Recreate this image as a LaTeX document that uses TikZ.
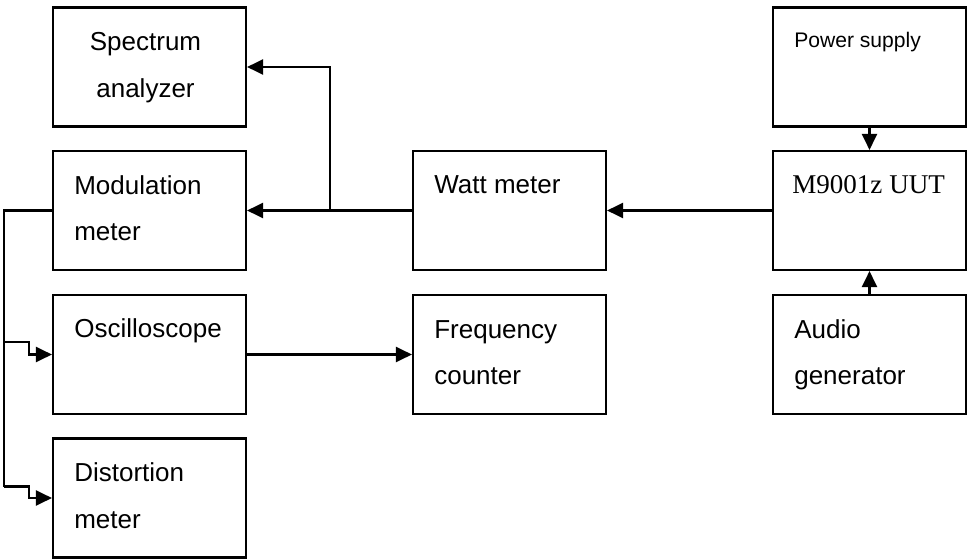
\documentclass[tikz,border=0pt]{standalone}
\usepackage{fontspec}
\setmainfont{Liberation Sans}
\newfontfamily\uutfont{Liberation Serif}
\usetikzlibrary{arrows.meta, positioning, calc}

\begin{document}
\begin{tikzpicture}[
        box/.style={rectangle, draw, line width=1.2pt, minimum width=3.86cm, minimum height=2.38cm, inner sep=0pt},
        lbl/.style={anchor=base west, align=left, inner sep=0pt, font=\fontsize{14.8}{26.7}\selectfont},
        wire/.style={line width=1.2pt},
        arrow/.style={-{Triangle[length=0.32cm, width=0.3cm]}, line width=1.2pt}
    ]
        \useasboundingbox (0,0) rectangle (19.34,11.16);

        % Measuring instruments on the left
        \node[box] (spec) at (2.99, 9.82) {};
        \node[box] (mod) at (2.99, 6.95) {};
        \node[box] (osc) at (2.99, 4.07) {};
        \node[box] (dist) at (2.99, 1.2) {};
        \node[lbl, anchor=base, align=center, xshift=-0.08cm, yshift=-1.82cm] (spectxt) at (spec.north) {Spectrum\\ analyzer};
        \node[lbl, xshift=0.44cm, yshift=-1.82cm] (modtxt) at (mod.north west) {Modulation\\meter};
        \node[lbl, xshift=0.44cm, yshift=-0.88cm] (osctxt) at (osc.north west) {Oscilloscope};
        \node[lbl, xshift=0.44cm, yshift=-1.82cm] (disttxt) at (dist.north west) {Distortion\\meter};

        % Middle column
        \node[box] (watt) at (10.19, 6.95) {};
        \node[box] (freq) at (10.19, 4.07) {};
        \node[lbl, xshift=0.44cm, yshift=-0.88cm] (watttxt) at (watt.north west) {Watt meter};
        \node[lbl, xshift=0.44cm, yshift=-1.82cm] (freqtxt) at (freq.north west) {Frequency\\counter};

        % Unit under test with its sources
        \node[box] (power) at (17.39, 9.82) {};
        \node[box] (uut) at (17.39, 6.95) {};
        \node[box] (audio) at (17.39, 4.07) {};
        \node[lbl, font=\fontsize{12}{14}\selectfont, xshift=0.44cm, yshift=-0.82cm] (powertxt) at (power.north west) {Power supply};
        \node[lbl, font=\fontsize{15.4}{18}\uutfont, xshift=0.40cm, yshift=-0.88cm] (uuttxt) at (uut.north west) {M9001z UUT};
        \node[lbl, xshift=0.44cm, yshift=-1.82cm] (audiotxt) at (audio.north west) {Audio\\generator};

        % Signal path
        \draw[arrow] (power) -- (uut);
        \draw[arrow] (audio) -- (uut);
        \draw[arrow] (uut) -- (watt);
        \draw[arrow] (watt) -- (mod);
        \coordinate (split) at (6.6, 6.95);
        \draw[arrow] (split) |- (spec);
        \draw[arrow] (osc) -- (freq);

        % Demodulated output to oscilloscope and distortion meter
        \coordinate (tapA) at ($(osc.west)+(-0.96, 0.25)$);
        \coordinate (tapB) at ($(dist.west)+(-0.96, 0.23)$);
        \draw[wire] (mod.west) -| (tapB);
        \draw[arrow] (tapA) -- ++(0.5, 0) |- (osc.west);
        \draw[arrow] (tapB) -- ++(0.5, 0) |- (dist.west);
    \end{tikzpicture}
\end{document}
